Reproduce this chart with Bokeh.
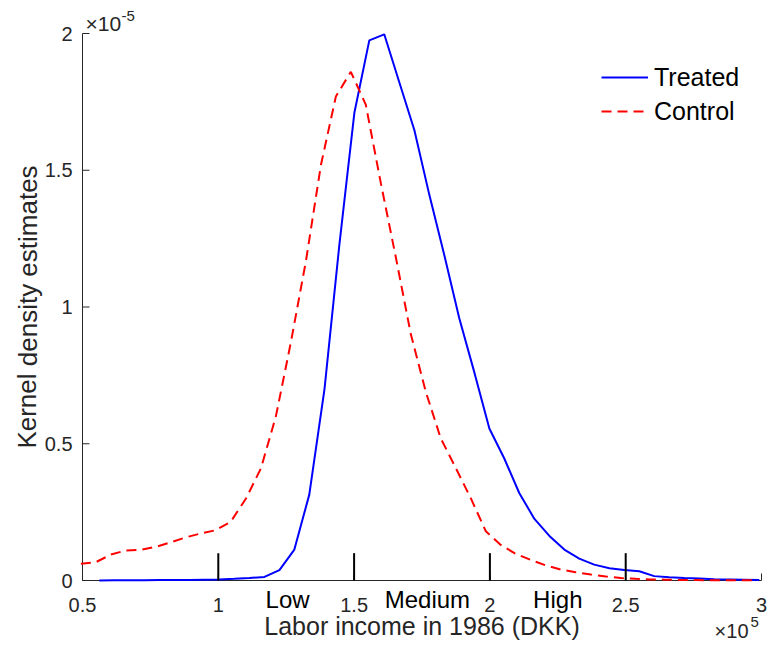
from bokeh.plotting import figure
from bokeh.models import Range1d, Legend, LegendItem
from bokeh.core.properties import value
from bokeh.embed import file_html
from bokeh.resources import INLINE

# Labor income in 1986, units of 10^5 DKK
treated_x = [0.562, 0.617, 0.673, 0.728, 0.783, 0.838, 0.894, 0.949, 1.004, 1.059,
             1.114, 1.170, 1.225, 1.280, 1.335, 1.391, 1.446, 1.501, 1.556, 1.611,
             1.667, 1.722, 1.777, 1.832, 1.887, 1.943, 1.998, 2.053, 2.108, 2.164,
             2.219, 2.274, 2.329, 2.384, 2.440, 2.495, 2.550, 2.605, 2.660, 2.716,
             2.771, 2.826, 2.881, 2.936, 2.992]
# Kernel density estimates, units of 10^-5
treated_y = [0.000, 0.001, 0.001, 0.001, 0.002, 0.002, 0.002, 0.003, 0.004, 0.006,
             0.009, 0.013, 0.038, 0.113, 0.314, 0.700, 1.230, 1.710, 1.975, 1.997,
             1.820, 1.646, 1.410, 1.190, 0.960, 0.760, 0.556, 0.446, 0.320, 0.225,
             0.163, 0.113, 0.080, 0.058, 0.045, 0.038, 0.034, 0.016, 0.012, 0.009,
             0.007, 0.005, 0.004, 0.003, 0.002]

control_x = [0.494, 0.549, 0.605, 0.660, 0.715, 0.770, 0.826, 0.881, 0.936, 0.991,
             1.046, 1.102, 1.157, 1.212, 1.267, 1.323, 1.378, 1.433, 1.488, 1.543,
             1.599, 1.654, 1.709, 1.764, 1.819, 1.875, 1.930, 1.985, 2.040, 2.096,
             2.151, 2.206, 2.261, 2.316, 2.372, 2.427, 2.482, 2.537, 2.592, 2.648,
             2.703, 2.758, 2.813, 2.868, 2.924, 2.979]
control_y = [0.061, 0.067, 0.095, 0.110, 0.112, 0.123, 0.140, 0.158, 0.172, 0.184,
             0.215, 0.300, 0.410, 0.600, 0.870, 1.170, 1.520, 1.770, 1.860, 1.740,
             1.450, 1.180, 0.900, 0.690, 0.520, 0.410, 0.300, 0.180, 0.130, 0.097,
             0.075, 0.055, 0.040, 0.030, 0.022, 0.015, 0.009, 0.006, 0.004, 0.003,
             0.002, 0.0015, 0.001, 0.001, 0.0005, 0.0005]

x_ticks = [0.5, 1, 1.5, 2, 2.5, 3]
x_tick_labels = ["0.5", "1", "1.5", "2", "2.5", "3"]
y_ticks = [0, 0.5, 1, 1.5, 2]
y_tick_labels = ["0", "0.5", "1", "1.5", "2"]

cutoffs = [1.0, 1.5, 2.0, 2.5]
cutoff_height = 0.1
group_names = ["Low", "Medium", "High"]
group_pos = [1.255, 1.77, 2.25]

x_label = "Labor income in 1986 (DKK)"
y_label = "Kernel density estimates"
legend_labels = ["Treated", "Control"]

X_MIN, X_MAX = 0.5, 3.0
Y_MIN, Y_MAX = 0.0, 2.0

FONT = "Liberation Sans"
AX = "#262626"

# ---- layout (pixels of the canvas) ----
W, H = 767, 641
LEFT_PX, RIGHT_PX = 82, 761      # where x = 0.5 and x = 3 fall
BOTTOM_PX, TOP_PX = 580, 33      # where y = 0 and y = 2 fall
KX = (RIGHT_PX - LEFT_PX) / (X_MAX - X_MIN)
KY = (BOTTOM_PX - TOP_PX) / (Y_MAX - Y_MIN)


def dx(px):
    return X_MIN + (px - LEFT_PX) / KX


def dy(py):
    return Y_MIN + (BOTTOM_PX - py) / KY


p = figure(width=W, height=H, output_backend="svg", toolbar_location=None,
           x_range=Range1d(dx(0), dx(W)), y_range=Range1d(dy(H), dy(0)),
           min_border=0)
p.min_border_left = p.min_border_right = p.min_border_top = p.min_border_bottom = 0
p.axis.visible = False
p.grid.visible = False
p.outline_line_color = None
p.background_fill_color = "white"
p.border_fill_color = "white"

# ---- axes (lines, inward ticks, tick labels) ----
p.line([X_MIN, X_MAX], [Y_MIN, Y_MIN], line_color=AX, line_width=1)
p.line([X_MIN, X_MIN], [Y_MIN, Y_MAX], line_color=AX, line_width=1)
tick_len = 7
p.segment(x0=[X_MIN] * len(y_ticks), y0=y_ticks,
          x1=[X_MIN + tick_len / KX] * len(y_ticks), y1=y_ticks,
          line_color=AX, line_width=1)
p.segment(x0=x_ticks, y0=[Y_MIN] * len(x_ticks),
          x1=x_ticks, y1=[Y_MIN + tick_len / KY] * len(x_ticks),
          line_color=AX, line_width=1)

p.text(x=[dx(LEFT_PX - 10)] * len(y_ticks), y=y_ticks, text=y_tick_labels,
       text_font=value(FONT), text_font_size=value("20px"), text_color=AX,
       text_align="right", text_baseline="middle")
p.text(x=x_ticks, y=[dy(BOTTOM_PX + 24)] * len(x_ticks), text=x_tick_labels,
       text_font=value(FONT), text_font_size=value("20px"), text_color=AX,
       text_align="center", text_baseline="middle")

# axis titles
p.text(x=[(X_MIN + X_MAX) / 2], y=[dy(625)], text=[x_label],
       text_font=value(FONT), text_font_size=value("25px"), text_color=AX,
       text_align="center", text_baseline="middle")
p.text(x=[dx(27)], y=[(Y_MIN + Y_MAX) / 2], text=[y_label], angle=1.5707963,
       text_font=value(FONT), text_font_size=value("26px"), text_color=AX,
       text_align="center", text_baseline="middle")

# exponent markers
p.text(x=[dx(85)], y=[dy(23)], text=["\u00d710"],
       text_font=value(FONT), text_font_size=value("21px"), text_color=AX,
       text_align="left", text_baseline="middle")
p.text(x=[dx(121)], y=[dy(15)], text=["-5"],
       text_font=value(FONT), text_font_size=value("15px"), text_color=AX,
       text_align="left", text_baseline="middle")
p.text(x=[dx(RIGHT_PX - 13)], y=[dy(630)], text=["\u00d710"],
       text_font=value(FONT), text_font_size=value("20px"), text_color=AX,
       text_align="right", text_baseline="middle")
p.text(x=[dx(RIGHT_PX - 11)], y=[dy(621)], text=["5"],
       text_font=value(FONT), text_font_size=value("15px"), text_color=AX,
       text_align="left", text_baseline="middle")

# ---- data ----
r_t = p.line(treated_x, treated_y, line_color="#0000FF", line_width=2)
r_c = p.line(control_x, control_y, line_color="#FF0000", line_width=2, line_dash="10 6")

# income group cut-offs and names
p.segment(x0=cutoffs, y0=[Y_MIN] * len(cutoffs), x1=cutoffs,
          y1=[cutoff_height] * len(cutoffs), line_color="black", line_width=2)
p.text(x=group_pos, y=[dy(BOTTOM_PX + 19)] * len(group_pos), text=group_names,
       text_font=value(FONT), text_font_size=value("24px"), text_color="black",
       text_align="center", text_baseline="middle")

# ---- legend ----
legend = Legend(items=[LegendItem(label=legend_labels[0], renderers=[r_t]),
                       LegendItem(label=legend_labels[1], renderers=[r_c])],
                location=(601, H - 128))
legend.border_line_color = None
legend.background_fill_alpha = 0
legend.label_text_font = FONT
legend.label_text_font_size = "25px"
legend.label_text_color = "black"
legend.glyph_width = 47
legend.glyph_height = 34
legend.label_height = 34
legend.label_standoff = 6
legend.spacing = 0
legend.padding = 0
legend.margin = 0
p.add_layout(legend)

open("out.html", "w").write(file_html(p, INLINE))
